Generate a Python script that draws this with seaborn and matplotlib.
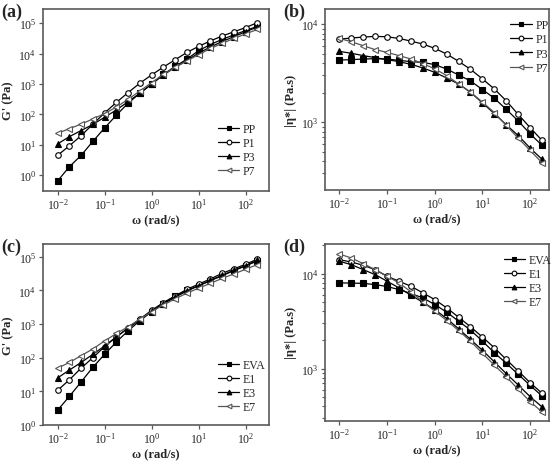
import numpy as np
import pandas as pd
import seaborn as sns
import matplotlib.pyplot as plt
from matplotlib.ticker import LogLocator, NullLocator, NullFormatter

# frequency sweep (rad/s)
omega = [0.01, 0.0178, 0.0316, 0.0562, 0.1, 0.178, 0.316, 0.562, 1.0, 1.78,
         3.16, 5.62, 10.0, 17.8, 31.6, 56.2, 100.0, 178.0]

# (a) G' of PP blends
names_p = ["PP", "P1", "P3", "P7"]
g_pp = [0.65, 1.9, 4.5, 13, 36, 95, 235, 500, 1000, 2090, 3800, 6600, 12600, 20000, 29500, 41700, 57500, 79400]
g_p1 = [4.5, 9.3, 20, 48, 112, 250, 525, 1070, 2000, 3630, 6300, 11000, 17400, 26300, 38000, 52500, 72400, 105000]
g_p3 = [10.7, 18.6, 29.5, 47, 81, 141, 263, 500, 1000, 2000, 3550, 6000, 10500, 16600, 25100, 36300, 52500, 75900]
g_p7 = [24, 34, 48, 71, 107, 174, 316, 590, 1120, 2090, 3550, 5750, 9300, 14800, 21900, 31600, 44700, 63100]

# (b) |eta*| of PP blends
eta_pp = [4300, 4340, 4400, 4440, 4400, 4270, 4140, 4070, 3860, 3480, 3030, 2630, 2150, 1750, 1350, 1030, 760, 580]
eta_p1 = [7030, 7210, 7380, 7500, 7430, 7140, 6710, 6260, 5660, 4950, 4170, 3460, 2760, 2180, 1650, 1200, 880, 650]
eta_p3 = [5270, 5040, 4770, 4550, 4340, 4140, 3890, 3570, 3220, 2820, 2450, 2020, 1570, 1220, 940, 730, 544, 417]
eta_p7 = [7140, 6610, 6020, 5490, 5150, 4770, 4410, 3960, 3490, 2990, 2450, 2020, 1600, 1250, 925, 687, 515, 385]

# (c) G' of EVA blends
names_e = ["EVA", "E1", "E3", "E7"]
g_eva = [2.75, 7.1, 19, 52, 126, 295, 630, 1260, 2340, 4070, 6600, 10000, 13800, 19500, 27500, 38900, 53700, 75900]
g_e1 = [10.7, 22, 49, 100, 214, 417, 760, 1410, 2570, 4370, 6900, 10700, 15500, 21900, 32400, 43700, 60300, 85100]
g_e3 = [25, 43, 72, 126, 224, 417, 760, 1350, 2400, 4000, 6300, 9550, 13800, 20000, 28200, 39800, 55000, 77600]
g_e7 = [49, 72, 115, 182, 316, 525, 830, 1410, 2340, 3720, 5600, 8300, 11700, 16200, 22900, 30900, 42700, 58900]

# (d) |eta*| of EVA blends
eta_eva = [7980, 7960, 7890, 7670, 7310, 6790, 6170, 5560, 4730, 3930, 3160, 2550, 1950, 1470, 1140, 873, 668, 516]
eta_e1 = [14000, 13250, 12230, 11000, 9380, 8310, 7370, 6270, 5330, 4360, 3480, 2760, 2150, 1660, 1250, 946, 713, 551]
eta_e3 = [13470, 12430, 11000, 9760, 8310, 7080, 5930, 5000, 4190, 3370, 2630, 2030, 1560, 1180, 887, 675, 508, 396]
eta_e7 = [16070, 14590, 12730, 11010, 9380, 7980, 6430, 5050, 4030, 3210, 2520, 1950, 1450, 1090, 824, 607, 451, 351]

sns.set_style("ticks")
plt.rcParams['font.family'] = ['Liberation Serif', 'DejaVu Serif']
plt.rcParams['mathtext.fontset'] = 'stix'

# marker, face colour, line colour for the four samples
styles = [("s", "black", "black"), ("o", "white", "black"),
          ("^", "black", "black"), ("<", "white", "#555555")]

spine_col = "#5a5a5a"


def draw_panel(ax, names, series, ylabel, xlim, ylim, minor_y, leg_loc, leg_anchor, letter):
    ax.set_xscale("log")
    ax.set_yscale("log")
    rows = []
    for n, vals in zip(names, series):
        for w, v in zip(omega, vals):
            rows.append({"omega": w, "value": v, "sample": n})
    df = pd.DataFrame(rows)
    for n, (m, fc, c) in zip(names, styles):
        sns.lineplot(data=df[df["sample"] == n], x="omega", y="value", ax=ax,
                     color=c, marker=m, markerfacecolor=fc, markeredgecolor=c,
                     markeredgewidth=0.8, markersize=4, linewidth=0.9, label=n)
    ax.set_xlim(xlim)
    ax.set_ylim(ylim)
    ax.xaxis.set_major_locator(LogLocator(base=10, numticks=10))
    ax.xaxis.set_minor_locator(NullLocator())
    ax.yaxis.set_major_locator(LogLocator(base=10, numticks=10))
    if minor_y:
        ax.yaxis.set_minor_locator(LogLocator(base=10, subs=np.arange(2, 10), numticks=10))
    else:
        ax.yaxis.set_minor_locator(NullLocator())
    ax.yaxis.set_minor_formatter(NullFormatter())
    ax.tick_params(which="major", direction="out", length=3, width=0.9,
                   color=spine_col, labelsize=8.5, pad=1.5)
    ax.tick_params(which="minor", direction="out", length=2, width=0.8, color=spine_col)
    for s in ax.spines.values():
        s.set_color(spine_col)
        s.set_linewidth(1.2)
    ax.set_xlabel("ω (rad/s)", fontsize=9, fontweight="bold", labelpad=1)
    ax.set_ylabel(ylabel, fontsize=9, fontweight="bold", labelpad=3)
    ax.legend(loc=leg_loc, bbox_to_anchor=leg_anchor, frameon=False, fontsize=8.5,
              handlelength=1.8, handletextpad=0.3, labelspacing=0.18, borderpad=0.2,
              markerscale=0.85)
    fig.text(ax.get_position().x0 - 0.075, ax.get_position().y1 - 0.004, letter,
             fontsize=13, fontweight="bold", va="center", ha="left")


fig = plt.figure(figsize=(5.53, 4.64), dpi=100)
ax_a = fig.add_axes([0.077, 0.586, 0.409, 0.392])
ax_b = fig.add_axes([0.588, 0.588, 0.405, 0.390])
ax_c = fig.add_axes([0.077, 0.082, 0.409, 0.390])
ax_d = fig.add_axes([0.588, 0.091, 0.405, 0.381])

draw_panel(ax_a, names_p, [g_pp, g_p1, g_p3, g_p7], "G' (Pa)",
           (10 ** -2.32, 10 ** 2.49), (0.3, 2.9e5), False, "lower left", (0.74, 0.03), "(a)")
draw_panel(ax_b, names_p, [eta_pp, eta_p1, eta_p3, eta_p7], "|η*| (Pa.s)",
           (10 ** -2.30, 10 ** 2.40), (202, 14200), True, "upper left", (0.79, 0.99), "(b)")
draw_panel(ax_c, names_e, [g_eva, g_e1, g_e3, g_e7], "G' (Pa)",
           (10 ** -2.32, 10 ** 2.49), (1.0, 2.4e5), False, "lower left", (0.74, 0.02), "(c)")
draw_panel(ax_d, names_e, [eta_eva, eta_e1, eta_e3, eta_e7], "|η*| (Pa.s)",
           (10 ** -2.30, 10 ** 2.40), (283, 20500), True, "upper left", (0.76, 0.99), "(d)")

fig.savefig("out.png", dpi=100)
